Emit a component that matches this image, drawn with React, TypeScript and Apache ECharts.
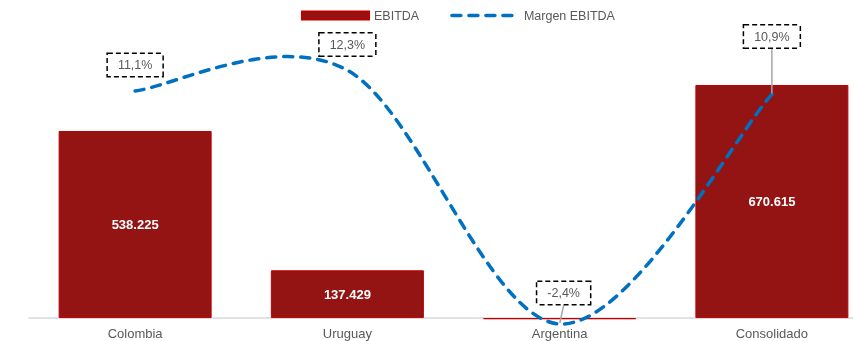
import React, { useEffect, useRef } from "react";
import * as echarts from "echarts";

const categories = ["Colombia", "Uruguay", "Argentina", "Consolidado"];
const ebitda = [538225, 137429, -3500, 670615];
const margen = [11.1, 12.3, -2.4, 10.9];
// label shift (px) for the margin labels, and whether a leader line is drawn
const margenLabelDy = [-9, -8.8, -14, -41];
const margenLabelDx = [0, 0, 4, 0];
const margenLeader = [false, false, true, true];

const fmtThousands = (v: number) => {
  const s = Math.round(Math.abs(v)).toString();
  const out = s.replace(/\B(?=(\d{3})+(?!\d))/g, ".");
  return (v < 0 ? "-" : "") + out;
};
const fmtPct = (v: number) => v.toFixed(1).replace(".", ",") + "%";

const BLUE = "#0070C0";
const DASH = [9, 8];

export default function App() {
  const ref = useRef<HTMLDivElement>(null);
  useEffect(() => {
    document.body.style.margin = "0";
    const chart = echarts.init(ref.current!, undefined, { renderer: "svg" });
    const font = "Liberation Sans, Arial, sans-serif";
    chart.setOption({
      animation: false,
      textStyle: { fontFamily: font },
      legend: {
        left: 296,
        top: 4,
        itemWidth: 67,
        itemHeight: 8,
        itemGap: 31,
        textStyle: { color: "#595959", fontSize: 12.5, fontFamily: font },
        data: [
          { name: "EBITDA", icon: "rect" },
          {
            name: "Margen EBITDA",
            itemStyle: { opacity: 0 },
            lineStyle: { color: BLUE, width: 3.5, type: DASH, opacity: 1, cap: "round" },
          },
        ],
      },
      grid: { left: 29, width: 849, top: 40, bottom: 16, outerBoundsMode: "none" },
      xAxis: {
        type: "category",
        data: categories,
        axisTick: { show: false },
        axisLine: { onZero: true, lineStyle: { color: "#D9D9D9", width: 1.5 } },
        axisLabel: { color: "#595959", fontSize: 13, fontFamily: font, margin: 2 },
      },
      yAxis: [
        { type: "value", min: -20000, max: 800000, show: false, splitLine: { show: false } },
        { type: "value", min: -2.46, max: 14.05, show: false, splitLine: { show: false } },
      ],
      series: [
        {
          name: "EBITDA",
          type: "bar",
          barWidth: 153,
          data: ebitda.map((v) => ({ value: v, label: { show: v > 0 } })),
          itemStyle: { color: "#941313", borderColor: "#C00000", borderWidth: 1 },
          label: {
            show: true,
            position: "inside",
            color: "#FFFFFF",
            fontWeight: "bold",
            fontSize: 13,
            fontFamily: font,
            formatter: (p: any) => fmtThousands(p.value),
          },
          z: 2,
        },
        {
          // smooth dashed curve (Excel-like cardinal spline through the data points)
          name: "Margen EBITDA curve",
          type: "custom",
          yAxisIndex: 1,
          silent: true,
          z: 3,
          data: margen.map((v, i) => [i, v]),
          encode: { x: 0, y: 1 },
          renderItem: (params: any, api: any) => {
            if (params.dataIndex !== 0) return null;
            const pts = margen.map((v, i) => api.coord([i, v]));
            const n = pts.length;
            const P = (k: number) => pts[Math.max(0, Math.min(n - 1, k))];
            let d = `M${pts[0][0]},${pts[0][1]}`;
            for (let i = 0; i < n - 1; i++) {
              const p0 = P(i - 1), p1 = P(i), p2 = P(i + 1), p3 = P(i + 2);
              const c1x = p1[0] + (p2[0] - p0[0]) / 6;
              const c1y = p1[1] + (p2[1] - p0[1]) / 6;
              const c2x = p2[0] - (p3[0] - p1[0]) / 6;
              const c2y = p2[1] - (p3[1] - p1[1]) / 6;
              d += ` C${c1x},${c1y} ${c2x},${c2y} ${p2[0]},${p2[1]}`;
            }
            return {
              type: "path",
              shape: { pathData: d },
              style: {
                fill: "none",
                stroke: BLUE,
                lineWidth: 3.5,
                lineDash: DASH,
                lineCap: "round",
              },
            };
          },
        },
        {
          name: "Margen EBITDA",
          type: "line",
          yAxisIndex: 1,
          symbol: "circle",
          symbolSize: 2,
          showSymbol: true,
          itemStyle: { color: "rgba(0,112,192,0)" },
          lineStyle: { color: BLUE, width: 3.5, type: DASH, opacity: 0 },
          data: margen.map((v, i) => ({
            value: v,
            labelLine: { show: margenLeader[i] },
          })),
          label: {
            show: true,
            position: "top",
            distance: 5,
            color: "#595959",
            fontSize: 12.5,
            fontFamily: font,
            backgroundColor: "#FFFFFF",
            borderColor: "#000000",
            borderWidth: 1.5,
            borderType: [5, 3],
            padding: [5, 10, 4, 10],
            formatter: (p: any) => fmtPct(p.value),
          },
          labelLine: { show: true, lineStyle: { color: "#A6A6A6", width: 1.5 } },
          labelLayout: (p: any) => ({
            dx: margenLabelDx[p.dataIndex],
            dy: margenLabelDy[p.dataIndex],
          }),
          z: 4,
        },
      ],
    });
    return () => chart.dispose();
  }, []);
  return (
    <div style={{ position: "fixed", left: 0, top: 0, width: 853, height: 341, overflow: "hidden" }}>
      <div ref={ref} style={{ width: 853, height: 341 }} />
    </div>
  );
}
